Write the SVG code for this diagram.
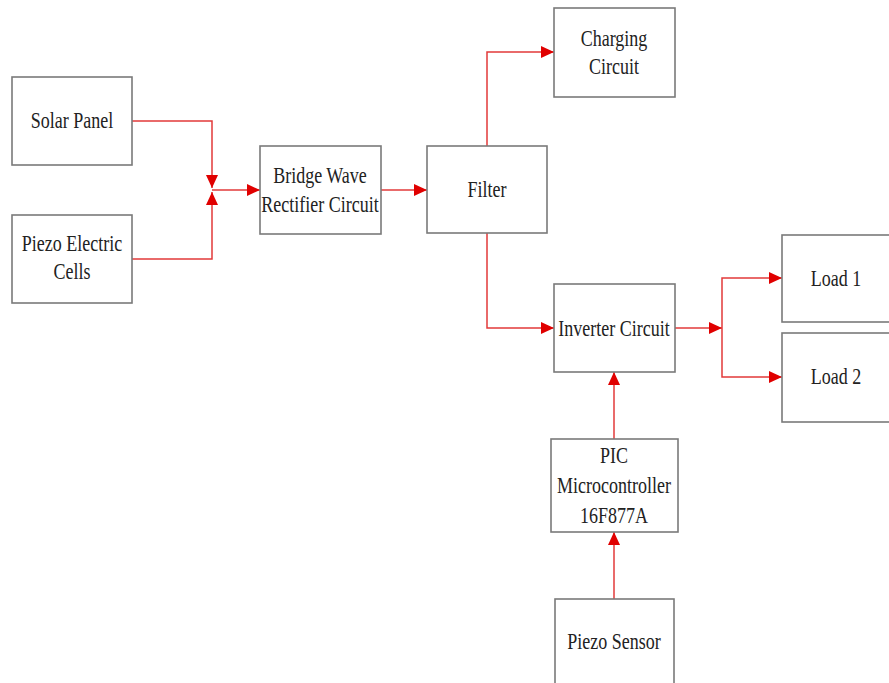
<svg xmlns="http://www.w3.org/2000/svg" width="889" height="683" viewBox="0 0 889 683">
<style>
.box{fill:#fff;stroke:#7a7a7a;stroke-width:1.6}
.t{font-family:'Liberation Serif','Times New Roman','DejaVu Serif',serif;font-size:18px;fill:#222;text-anchor:middle}
.c{fill:none;stroke:#e23a3a;stroke-width:1.5}
</style>
<defs>
<marker id="ah" markerUnits="userSpaceOnUse" markerWidth="14" markerHeight="12" refX="13" refY="6" orient="auto">
<path d="M0,0 L13,6 L0,12 Z" fill="#e00000"/>
</marker>
</defs>
<rect width="889" height="683" fill="#fff"/>
<g id="connectors">
<path class="c" d="M132,121 H212 V188" marker-end="url(#ah)"/>
<path class="c" d="M132,259 H212 V192" marker-end="url(#ah)"/>
<path class="c" d="M212,190 H260" marker-end="url(#ah)"/>
<path class="c" d="M381,190 H427" marker-end="url(#ah)"/>
<path class="c" d="M487,146 V52 H554" marker-end="url(#ah)"/>
<path class="c" d="M487,233 V328 H554" marker-end="url(#ah)"/>
<path class="c" d="M675,328 H722" marker-end="url(#ah)"/>
<path class="c" d="M722,328 V278 H782" marker-end="url(#ah)"/>
<path class="c" d="M722,328 V377 H782" marker-end="url(#ah)"/>
<path class="c" d="M614,439 V372" marker-end="url(#ah)"/>
<path class="c" d="M614,599 V532" marker-end="url(#ah)"/>
</g>
<g id="solar"><rect class="box" x="12" y="77" width="120" height="88"/>
<text class="t" transform="translate(72,128) scale(1,1.25)">Solar Panel</text></g>
<g id="piezo-cells"><rect class="box" x="12" y="215" width="120" height="88"/>
<text class="t" transform="translate(72,251) scale(1,1.25)">Piezo Electric</text>
<text class="t" transform="translate(72,279) scale(1,1.25)">Cells</text></g>
<g id="bridge"><rect class="box" x="260" y="146" width="121" height="88"/>
<text class="t" transform="translate(320,183) scale(1,1.25)">Bridge Wave</text>
<text class="t" transform="translate(320,212) scale(1,1.25)">Rectifier Circuit</text></g>
<g id="filter"><rect class="box" x="427" y="146" width="120" height="87"/>
<text class="t" transform="translate(487,197) scale(1,1.25)">Filter</text></g>
<g id="charging"><rect class="box" x="554" y="8" width="121" height="89"/>
<text class="t" transform="translate(614,46) scale(1,1.25)">Charging</text>
<text class="t" transform="translate(614,74) scale(1,1.25)">Circuit</text></g>
<g id="inverter"><rect class="box" x="554" y="284" width="121" height="88"/>
<text class="t" transform="translate(614,336) scale(1,1.25)">Inverter Circuit</text></g>
<g id="load1"><rect class="box" x="782" y="235" width="112" height="87"/>
<text class="t" transform="translate(836,286) scale(1,1.25)">Load 1</text></g>
<g id="load2"><rect class="box" x="782" y="333" width="112" height="89"/>
<text class="t" transform="translate(836,384) scale(1,1.25)">Load 2</text></g>
<g id="pic"><rect class="box" x="551" y="439" width="127" height="93"/>
<text class="t" transform="translate(614,463) scale(1,1.25)">PIC</text>
<text class="t" transform="translate(614,493) scale(1,1.25)">Microcontroller</text>
<text class="t" transform="translate(614,523) scale(1,1.25)">16F877A</text></g>
<g id="sensor"><rect class="box" x="555" y="599" width="119" height="100"/>
<text class="t" transform="translate(614,649) scale(1,1.25)">Piezo Sensor</text></g>
</svg>
